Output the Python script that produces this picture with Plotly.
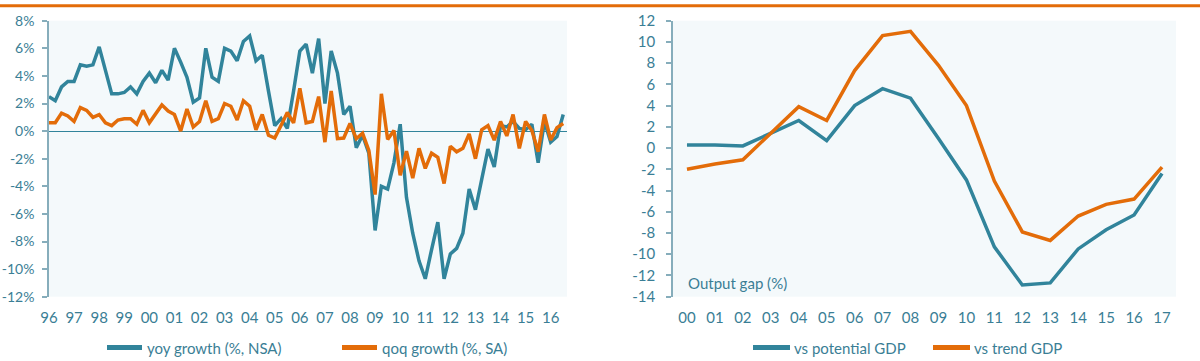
import plotly.graph_objects as go

# ---------------- data ----------------
quarters = [f"{y}Q{q}" for y in range(1996, 2017) for q in range(1, 5)][:83]
year_ticks = ["96", "97", "98", "99", "00", "01", "02", "03", "04", "05", "06",
              "07", "08", "09", "10", "11", "12", "13", "14", "15", "16"]

yoy_growth = [2.5, 2.2, 3.2, 3.6, 3.6, 4.8, 4.7, 4.8, 6.1, 4.4, 2.7, 2.7, 2.8, 3.2, 2.7, 3.6, 4.2, 3.5, 4.4, 3.7, 6.0,
              5.0, 3.9, 2.1, 2.4, 6.0, 3.9, 3.6, 6.0, 5.8, 5.1, 6.5, 6.9, 5.1, 5.5, 2.9, 0.4, 0.9, 0.2, 2.9, 5.8,
              6.3, 4.2, 6.7, 2.0, 5.8, 4.2, 1.2, 1.8, -1.2, -0.3, -1.6, -7.2, -4.0, -4.2, -2.3, 0.5, -4.8, -7.4, -9.4, -10.7, -8.6,
              -6.6, -10.7, -8.9, -8.5, -7.4, -4.2, -5.7, -3.5, -1.3, -2.6, 0.4, 0.3, 0.7, 0.2, 0.1, 0.5, -2.3, 0.7, -0.8, -0.4, 1.2]

qoq_growth = [0.6, 0.6, 1.3, 1.1, 0.7, 1.7, 1.5, 1.0, 1.2, 0.6, 0.4, 0.8, 0.9, 0.9, 0.5, 1.5, 0.6, 1.2, 1.9, 1.45, 1.2,
              0.0, 1.6, 0.3, 0.7, 2.2, 0.7, 0.9, 2.0, 1.8, 0.8, 2.2, 1.8, 0.1, 1.2, -0.3, -0.5, 0.4, 1.35, 0.6, 3.1,
              0.6, 0.7, 2.5, -0.8, 2.9, -0.55, -0.5, 0.55, -0.55, -0.15, -1.4, -4.6, 2.7, -0.6, 0.05, -3.2, -1.45, -3.4, -1.25, -2.7, -1.6,
              -1.9, -3.8, -1.1, -1.5, -1.25, -0.2, -2.0, 0.1, 0.4, -0.65, 0.7, -0.35, 1.2, -1.25, 0.7, 0.05, -1.5, 1.2, -0.65, 0.25, 0.55]

gap_years = ["00", "01", "02", "03", "04", "05", "06", "07", "08",
             "09", "10", "11", "12", "13", "14", "15", "16", "17"]
gap_potential = [0.3, 0.3, 0.2, 1.4, 2.6, 0.7, 4.0, 5.6, 4.7, 0.9, -3.0, -9.3, -12.9, -12.7, -9.5, -7.7, -6.3, -2.4]
gap_trend = [-2.0, -1.5, -1.1, 1.4, 3.9, 2.6, 7.3, 10.6, 11.0, 7.8, 4.0, -3.1, -7.9, -8.7, -6.4, -5.3, -4.8, -1.8]

left_yticks = [-12, -10, -8, -6, -4, -2, 0, 2, 4, 6, 8]
right_yticks = [-14, -12, -10, -8, -6, -4, -2, 0, 2, 4, 6, 8, 10, 12]

# ---------------- styles ----------------
W, H = 1200, 361
TEAL = "#31849B"
ORANGE = "#E36C09"
TXT = "#3A7E95"
AXL = "#86ADBB"
FONT = "Lato"

def px(x):
    return x / W

def py(y):
    return 1 - y / H

ydom = [py(296.7), py(20.7)]

fig = go.Figure()
fig.add_trace(go.Scatter(x=quarters, y=yoy_growth, mode="lines", name="yoy growth (%, NSA)",
                         line=dict(color=TEAL, width=3.5), xaxis="x", yaxis="y"))
fig.add_trace(go.Scatter(x=quarters, y=qoq_growth, mode="lines", name="qoq growth (%, SA)",
                         line=dict(color=ORANGE, width=3.5), xaxis="x", yaxis="y"))
fig.add_trace(go.Scatter(x=gap_years, y=gap_potential, mode="lines", name="vs potential GDP",
                         line=dict(color=TEAL, width=3.5), xaxis="x2", yaxis="y2"))
fig.add_trace(go.Scatter(x=gap_years, y=gap_trend, mode="lines", name="vs trend GDP",
                         line=dict(color=ORANGE, width=3.5), xaxis="x2", yaxis="y2"))

zero_pos = ydom[0] + (0 - (-14)) / 26 * (ydom[1] - ydom[0])

fig.update_layout(
    width=W, height=H, margin=dict(l=0, r=0, t=0, b=0, pad=0, autoexpand=False),
    paper_bgcolor="white", plot_bgcolor="#F4F9FB", showlegend=False,
    font=dict(family=FONT, size=15, color=TXT),
    xaxis=dict(domain=[px(49), px(567)], anchor="y", type="category",
               categoryorder="array", categoryarray=quarters,
               range=[0, 82.6], tickvals=quarters[::4], ticktext=year_ticks,
               showline=False, ticks="", showgrid=False, zeroline=False, automargin=False,
               ticklabelstandoff=10, tickfont=dict(size=15, color=TXT)),
    yaxis=dict(domain=ydom, anchor="x", range=[-12, 8],
               tickvals=left_yticks, ticktext=[f"{v}%" for v in left_yticks],
               showline=True, linecolor=AXL, linewidth=1.5,
               ticks="outside", ticklen=5, tickcolor=AXL, tickwidth=1.5,
               showgrid=False, zeroline=True, zerolinecolor=TEAL, zerolinewidth=1, automargin=False,
               ticklabelstandoff=5, tickfont=dict(size=14, color=TXT)),
    xaxis2=dict(domain=[px(673), px(1176)], anchor="y2", type="category",
                range=[-0.5, 17.5], showline=False, ticks="", showgrid=False, automargin=False,
                zeroline=False, ticklabelstandoff=10, tickfont=dict(size=15, color=TXT)),
    yaxis2=dict(domain=ydom, anchor="x2", range=[-14, 12],
                tickvals=right_yticks, ticktext=[str(v) for v in right_yticks],
                showline=True, linecolor=AXL, linewidth=1.5,
                ticks="outside", ticklen=5, tickcolor=AXL, tickwidth=1.5,
                showgrid=False, zeroline=False, automargin=False,
                ticklabelstandoff=8, tickfont=dict(size=15, color=TXT)),
    xaxis3=dict(overlaying="x2", anchor="free", position=zero_pos, side="bottom",
                range=[-0.5, 17.5], tickvals=[i + 0.5 for i in range(-1, 18)],
                showticklabels=False, showline=True, linecolor=AXL, linewidth=1.5,
                ticks="outside", ticklen=5, tickcolor=AXL, tickwidth=1.5, automargin=False,
                showgrid=False, zeroline=False),
)

shapes = [dict(type="line", xref="paper", yref="paper", x0=0, x1=1, y0=py(5.7), y1=py(5.7),
               line=dict(color=ORANGE, width=3))]
legend_items = [(107, 142, 145, "yoy growth (%, NSA)", TEAL),
                (342, 377, 380, "qoq growth (%, SA)", ORANGE),
                (753, 790, 792, "vs potential GDP", TEAL),
                (933, 970, 972, "vs trend GDP", ORANGE)]
annotations = []
for x0, x1, xt, label, col in legend_items:
    shapes.append(dict(type="line", xref="paper", yref="paper", x0=px(x0), x1=px(x1),
                       y0=py(347.5), y1=py(347.5), line=dict(color=col, width=5)))
    annotations.append(dict(xref="paper", yref="paper", x=px(xt), y=py(347.5), text=label,
                            showarrow=False, xanchor="left", yanchor="middle",
                            font=dict(family=FONT, size=15, color=TXT)))
annotations.append(dict(xref="paper", yref="paper", x=px(686), y=py(282.5), text="Output gap (%)",
                        showarrow=False, xanchor="left", yanchor="middle",
                        font=dict(family=FONT, size=15, color=TXT)))
fig.update_layout(shapes=shapes, annotations=annotations)

fig.write_html("out.html", config={"displayModeBar": False},
               post_script="document.body.style.margin='0px';")
